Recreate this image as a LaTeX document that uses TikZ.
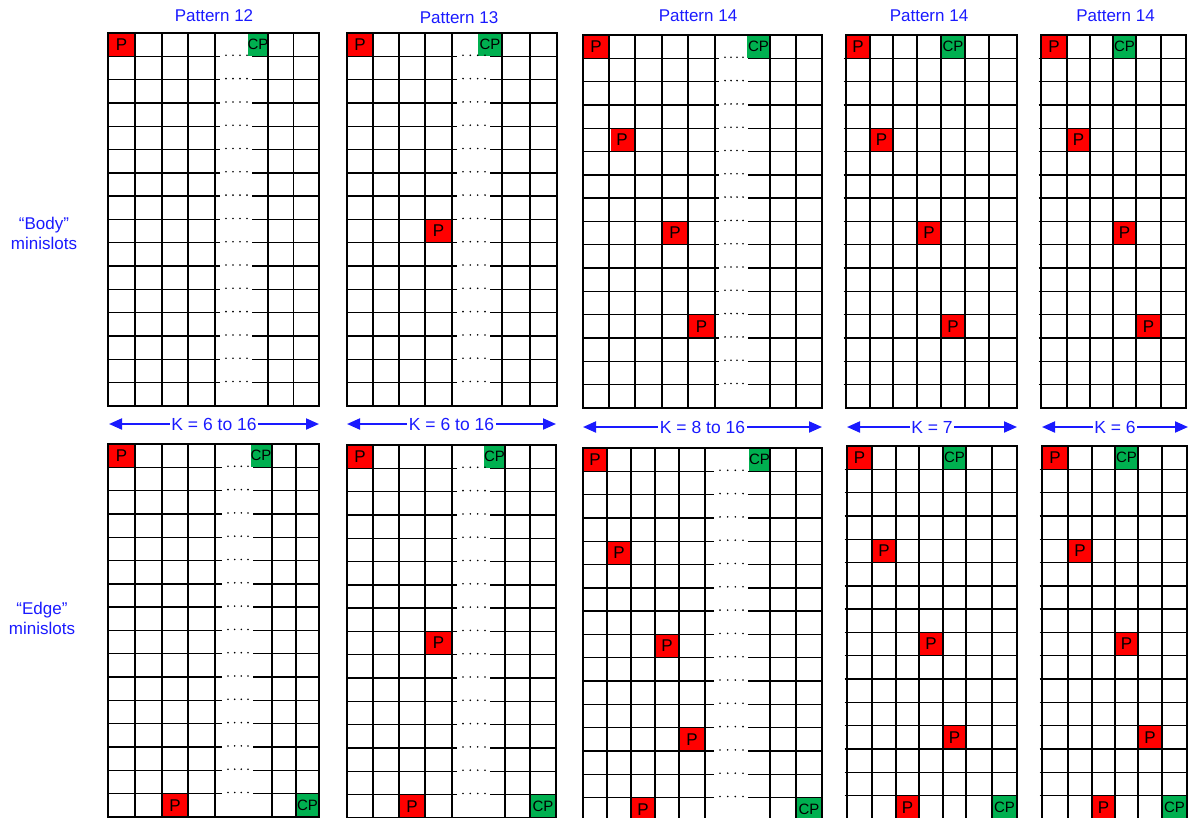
\documentclass[tikz,border=0pt]{standalone}
\usepackage{fontspec}
\setmainfont{Liberation Sans}
\usepackage{xcolor}
\usepackage{tikz}
\usetikzlibrary{arrows.meta}
\definecolor{SLOTRED}{HTML}{FF0000}
\definecolor{SLOTGREEN}{HTML}{00B050}
\definecolor{KBLUE}{HTML}{1A1AFF}
\definecolor{GRIDINK}{HTML}{000000}

\newcommand{\rowh}{23.3}
% 16-row grid with a dotted gap: x0, y0, left stub end, right stub start, x1, verticals
\newcommand{\gapgrid}[6]{%
  \draw[gridline] (#1,#2) rectangle (#5,#2+16*\rowh);
  \foreach \gx in {#6} {\draw[gridline] (\gx,#2) -- (\gx,#2+16*\rowh);}
  \foreach \gr in {1,...,15} {
    \draw[gridline] (#1,#2+\gr*\rowh) -- (#3,#2+\gr*\rowh);
    \draw[gridline] (#4,#2+\gr*\rowh) -- (#5,#2+\gr*\rowh);
    \foreach \gd in {1,...,4} {\fill[GRIDINK] ({#3+6+(#4-#3-11)*(\gd-1)/3},#2+\gr*\rowh-1) circle (0.9);}
  }%
}
% 16-row grid without gap: x0, y0, x1, verticals
\newcommand{\fullgrid}[4]{%
  \draw[gridline] (#1,#2) rectangle (#3,#2+16*\rowh);
  \foreach \gx in {#4} {\draw[gridline] (\gx,#2) -- (\gx,#2+16*\rowh);}
  \foreach \gr in {1,...,15} {\draw[gridline] (#1-2.5,#2+\gr*\rowh) -- (#3,#2+\gr*\rowh);}%
}

\begin{document}
\begin{tikzpicture}[
  x=1pt, y=-1pt,
  gridline/.style={draw=GRIDINK, line width=1.4pt},
  pmark/.style={fill=SLOTRED, inner sep=0pt, minimum height=22pt, minimum width=#1,
    text=black, font=\fontsize{17}{17}\selectfont},
  pmark/.default=24,
  cpmark/.style={pmark=#1, fill=SLOTGREEN, font=\fontsize{15}{15}\selectfont},
  cpmark/.default=22,
  title/.style={anchor=base, text=KBLUE, font=\fontsize{17}{20}\selectfont},
  side/.style={align=center, text=KBLUE, font=\fontsize{17}{20}\selectfont},
  karrow/.style={<->, >={Triangle[length=13pt,width=11pt]}, draw=KBLUE, line width=2pt},
  klabel/.style={fill=white, inner xsep=1.5pt, inner ysep=0pt, text=KBLUE,
    font=\fontsize{17.5}{20}\selectfont},
]
\useasboundingbox (0,0) rectangle (1189,817);
\clip (0,0) rectangle (1189,817);

% ---- titles ---------------------------------------------------------------
\node[title] (ta) at (214,21) {Pattern 12};
\node[title] (tb) at (459,23) {Pattern 13};
\node[title] (tc) at (698,21) {Pattern 14};
\node[title] (td) at (929,21) {Pattern 14};
\node[title] (te) at (1115.5,21) {Pattern 14};

% ---- row labels -----------------------------------------------------------
\node[side] (body) at (44,233) {“Body”\\minislots};
\node[side] (edge) at (42,618) {“Edge”\\minislots};

% ---- body minislots: marks ------------------------------------------------
\node[pmark=26] (a-p0) at (121.5,44.65) {P};
\node[cpmark=20] (a-cp) at (258,44.65) {CP};
\node[pmark=25] (b-p0) at (360,44.65) {P};
\node[cpmark=24] (b-cp) at (490,44.65) {CP};
\node[pmark=26] (b-p1) at (438.5,231.05) {P};
\node[pmark=25] (c-p0) at (596,46.65) {P};
\node[cpmark=23] (c-cp) at (758.5,46.65) {CP};
\node[pmark=23] (c-p1) at (622,139.85) {P};
\node[pmark=25] (c-p2) at (675,233.05) {P};
\node[pmark=25] (c-p3) at (701.5,326.25) {P};
\node[pmark=23] (d-p0) at (858,46.65) {P};
\node[cpmark=23] (d-cp) at (953,46.65) {CP};
\node[pmark=22] (d-p1) at (881.5,139.85) {P};
\node[pmark=23] (d-p2) at (929,233.05) {P};
\node[pmark=23] (d-p3) at (953,326.25) {P};
\node[pmark=25] (e-p0) at (1054,46.65) {P};
\node[cpmark=22] (e-cp) at (1124.5,46.65) {CP};
\node[pmark=22] (e-p1) at (1078.5,139.85) {P};
\node[pmark=22] (e-p2) at (1124.5,233.05) {P};
\node[pmark=24] (e-p3) at (1148.5,326.25) {P};

% ---- edge minislots: marks ------------------------------------------------
\node[pmark=26] (ea-p0) at (121.5,455.65) {P};
\node[cpmark=21] (ea-cp) at (261,455.65) {CP};
\node[pmark=25] (ea-p1) at (175,805.15) {P};
\node[cpmark=22] (ea-cq) at (307.5,805.15) {CP};
\node[pmark=25] (eb-p0) at (360,456.65) {P};
\node[cpmark=21] (eb-cp) at (494.5,456.65) {CP};
\node[pmark=26] (eb-p1) at (438.5,643.05) {P};
\node[pmark=25] (eb-p2) at (412,806.15) {P};
\node[cpmark=25] (eb-cq) at (543,806.15) {CP};
\node[pmark=23] (ec-p0) at (595,459.65) {P};
\node[cpmark=21] (ec-cp) at (759.5,459.65) {CP};
\node[pmark=23] (ec-p1) at (619,552.85) {P};
\node[pmark=23] (ec-p2) at (667,646.05) {P};
\node[pmark=24] (ec-p3) at (692,739.25) {P};
\node[pmark=23] (ec-p4) at (643,809.15) {P};
\node[cpmark=25] (ec-cq) at (809,809.15) {CP};
\node[pmark=24] (ed-p0) at (859.5,457.65) {P};
\node[cpmark=22] (ed-cp) at (954.5,457.65) {CP};
\node[pmark=23] (ed-p1) at (884,550.85) {P};
\node[pmark=23] (ed-p2) at (931,644.05) {P};
\node[pmark=22] (ed-p3) at (954.5,737.25) {P};
\node[pmark=22] (ed-p4) at (907.5,807.15) {P};
\node[cpmark=24] (ed-cq) at (1004.5,807.15) {CP};
\node[pmark=25] (ee-p0) at (1055,457.65) {P};
\node[cpmark=22] (ee-cp) at (1126.5,457.65) {CP};
\node[pmark=23] (ee-p1) at (1080,550.85) {P};
\node[pmark=22] (ee-p2) at (1126.5,644.05) {P};
\node[pmark=23] (ee-p3) at (1150,737.25) {P};
\node[pmark=22] (ee-p4) at (1103.5,807.15) {P};
\node[cpmark=24] (ee-cq) at (1174.5,807.15) {CP};

% ---- grids ----------------------------------------------------------------
\gapgrid{108}{33}{220}{252}{319}{135,162,188,215,268,293.5}
\gapgrid{347}{33}{457}{490}{557}{373,399,425,452,502,530}
\gapgrid{583}{35}{719}{748}{822}{609,635,662,688,715,770,796}
\fullgrid{846}{35}{1017}{870,893,917,941,965,989}
\fullgrid{1041}{35}{1186}{1067,1090,1113,1136,1161}
\gapgrid{108}{444}{222}{253}{319}{135,162,188,215,272,296}
\gapgrid{347}{445}{457}{490}{556}{373,399,425,452,505,530}
\gapgrid{583}{448}{714}{748}{822}{607,631,655,679,705,770,796}
\fullgrid{847}{446}{1017}{872,896,919,943,966,992}
\fullgrid{1042}{446}{1187}{1068,1092,1115,1138,1162}

% ---- K ranges -------------------------------------------------------------
\coordinate (ka-l) at (109,424);  \coordinate (ka-r) at (319,424);
\coordinate (kb-l) at (347,424);  \coordinate (kb-r) at (556,424);
\coordinate (kc-l) at (583,427);  \coordinate (kc-r) at (822,427);
\coordinate (kd-l) at (847,427);  \coordinate (kd-r) at (1017,427);
\coordinate (ke-l) at (1042,427); \coordinate (ke-r) at (1188,427);
\draw[karrow] (ka-l) -- node[klabel] (ka) {K = 6 to 16} (ka-r);
\draw[karrow] (kb-l) -- node[klabel] (kb) {K = 6 to 16} (kb-r);
\draw[karrow] (kc-l) -- node[klabel] (kc) {K = 8 to 16} (kc-r);
\draw[karrow] (kd-l) -- node[klabel] (kd) {K = 7} (kd-r);
\draw[karrow] (ke-l) -- node[klabel] (ke) {K = 6} (ke-r);

\end{tikzpicture}
\end{document}
